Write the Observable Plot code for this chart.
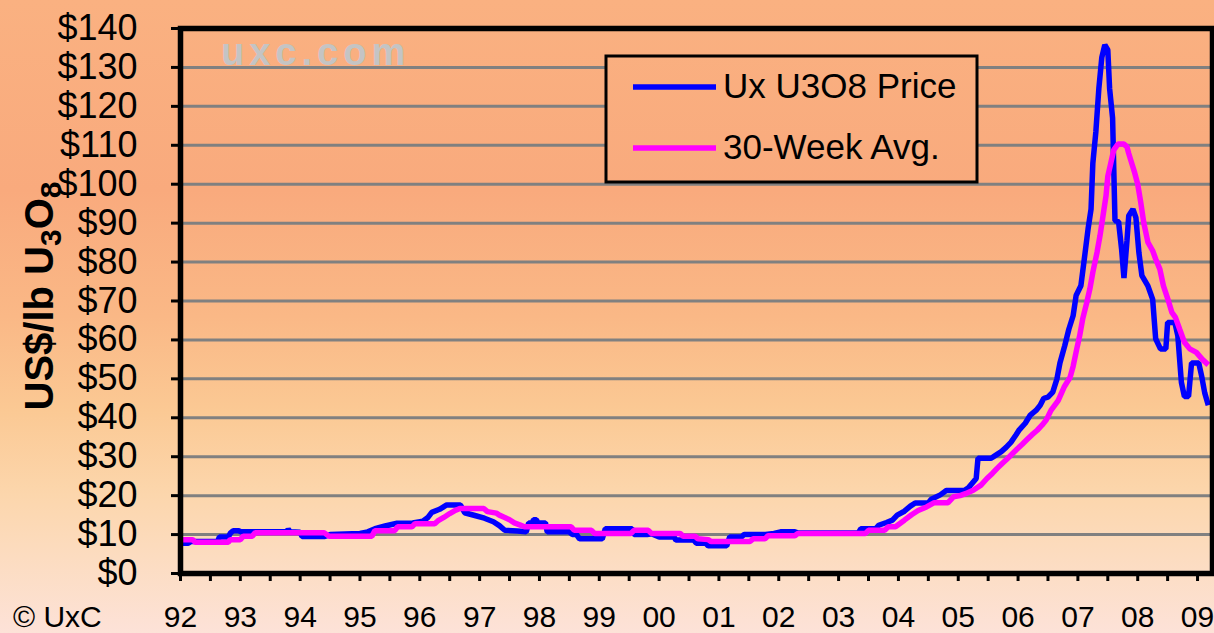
<!DOCTYPE html>
<html><head><meta charset="utf-8">
<script src="https://cdn.jsdelivr.net/npm/d3@7"></script>
<script src="https://cdn.jsdelivr.net/npm/@observablehq/plot@0.6"></script>
<style>html,body{margin:0;padding:0;overflow:hidden;background:#FDE2D8}#chart svg{display:block}</style>
</head><body><div id="chart"></div>
<script>
// Ux U3O8 spot price (decimal year, US$/lb)
const priceYears = [1992.00,1992.13,1992.17,1992.62,1992.65,1992.80,1992.83,1992.88,1992.98,1993.00,1993.20,1993.78,1993.80,1993.83,1994.00,1994.03,1994.40,1994.50,1995.00,1995.13,1995.25,1995.42,1995.62,1995.88,1996.05,1996.13,1996.20,1996.33,1996.45,1996.68,1996.75,1996.92,1997.08,1997.23,1997.33,1997.42,1997.63,1997.78,1997.82,1997.88,1997.90,1997.95,1997.97,1998.10,1998.13,1998.50,1998.55,1998.62,1998.67,1999.05,1999.10,1999.55,1999.58,1999.80,1999.87,2000.00,2000.25,2000.28,2000.58,2000.62,2000.78,2000.82,2001.13,2001.18,2001.38,2001.42,2001.78,2001.92,2002.03,2002.27,2002.33,2003.33,2003.37,2003.62,2003.67,2003.80,2003.90,2003.98,2004.10,2004.20,2004.28,2004.50,2004.55,2004.70,2004.80,2005.10,2005.17,2005.23,2005.30,2005.33,2005.55,2005.63,2005.72,2005.80,2005.88,2005.97,2006.02,2006.12,2006.20,2006.30,2006.37,2006.43,2006.50,2006.58,2006.65,2006.70,2006.78,2006.85,2006.92,2006.97,2007.05,2007.10,2007.17,2007.22,2007.25,2007.30,2007.35,2007.40,2007.45,2007.50,2007.53,2007.58,2007.62,2007.68,2007.73,2007.77,2007.82,2007.85,2007.92,2007.97,2008.02,2008.07,2008.17,2008.25,2008.30,2008.38,2008.47,2008.50,2008.62,2008.67,2008.73,2008.78,2008.85,2008.90,2009.02,2009.07,2009.12,2009.18];
const priceValues = [7.8,7.8,8.2,8.2,9.4,9.4,10.3,11.0,11.0,10.7,10.7,10.7,11.4,10.7,10.6,9.5,9.5,10.0,10.3,10.7,11.5,12.2,12.9,13.0,13.4,14.3,15.7,16.5,17.6,17.6,15.6,14.9,14.2,13.3,12.3,11.1,10.9,10.7,13.0,13.0,13.8,13.8,13.0,13.0,10.7,10.7,10.0,10.0,8.9,8.9,11.5,11.5,10.0,10.0,10.2,9.4,9.4,8.6,8.6,7.8,7.8,7.1,7.1,9.4,9.4,10.0,10.0,10.3,10.7,10.7,10.4,10.4,11.5,11.5,12.4,13.1,13.7,15.0,16.0,17.3,18.1,18.1,19.1,20.2,21.3,21.3,22.0,23.1,24.4,29.6,29.6,30.4,31.3,32.4,33.7,35.7,36.9,38.6,40.6,41.9,43.2,45.0,45.3,46.6,50.0,54.1,58.5,62.8,66.2,71.4,73.9,79.9,88.5,93.6,105.4,113.4,124.5,132.6,135.8,134.5,124.6,117.0,90.6,90.4,83.4,75.9,85.4,91.9,93.6,91.4,82.4,76.5,73.9,70.4,60.3,57.7,57.7,64.5,64.5,61.1,49.1,45.5,45.5,54.1,54.1,50.6,46.4,43.2];

// 30-week moving average (decimal year, US$/lb)
const avgYears = [1992.00,1992.20,1992.25,1992.80,1992.83,1993.00,1993.05,1993.20,1993.25,1994.40,1994.48,1995.20,1995.25,1995.58,1995.63,1995.87,1995.92,1996.25,1996.30,1996.40,1996.50,1996.58,1996.67,1997.07,1997.13,1997.28,1997.33,1997.42,1997.50,1997.58,1997.67,1997.75,1998.53,1998.58,1998.87,1998.92,1999.53,1999.58,1999.82,1999.87,2000.35,2000.40,2000.60,2000.65,2000.82,2000.87,2001.52,2001.57,2001.77,2001.82,2002.27,2002.32,2003.45,2003.50,2003.77,2003.83,2003.95,2004.02,2004.10,2004.22,2004.33,2004.47,2004.60,2004.83,2004.92,2005.03,2005.12,2005.25,2005.38,2005.48,2005.57,2005.65,2005.73,2005.82,2005.90,2005.98,2006.07,2006.15,2006.23,2006.32,2006.40,2006.47,2006.55,2006.67,2006.77,2006.87,2006.92,2006.98,2007.03,2007.08,2007.15,2007.20,2007.25,2007.32,2007.37,2007.42,2007.47,2007.50,2007.55,2007.60,2007.67,2007.77,2007.82,2007.85,2007.90,2007.95,2008.00,2008.05,2008.10,2008.17,2008.25,2008.30,2008.37,2008.43,2008.52,2008.57,2008.63,2008.70,2008.78,2008.87,2008.98,2009.08,2009.18];
const avgValues = [8.7,8.7,8.0,8.0,8.7,8.7,9.6,9.6,10.5,10.5,9.6,9.6,11.0,11.0,12.0,12.0,12.8,12.8,13.5,14.4,15.4,16.1,16.7,16.7,15.9,15.5,15.0,14.4,13.8,13.0,12.5,12.0,12.0,11.1,11.1,10.3,10.3,11.1,11.1,10.3,10.3,9.6,9.6,8.9,8.7,8.2,8.2,8.9,8.9,9.7,9.7,10.3,10.3,11.1,11.1,12.0,12.0,12.8,13.7,15.1,16.2,17.1,18.2,18.2,19.7,20.0,20.5,21.4,22.7,24.4,25.7,27.0,28.2,29.5,30.7,31.9,33.2,34.4,35.6,36.8,38.1,39.4,41.9,44.4,47.9,50.4,53.2,57.6,61.1,65.4,69.7,73.1,77.4,82.5,86.8,91.9,97.0,102.0,105.4,108.8,110.3,110.3,109.6,107.9,105.4,102.9,100.0,95.4,90.2,85.1,82.9,80.8,78.2,73.9,69.7,67.1,65.8,62.8,59.4,57.7,56.8,55.0,53.6];

const yTicks = d3.range(0, 141, 10);
const gridValues = d3.range(10, 131, 10);
const yearTicks = d3.range(1992, 2010);
const halfYearTicks = d3.range(1992, 2009.01, 0.5);
const legendLabels = ["Ux U3O8 Price", "30-Week Avg."];
const seriesColors = ["#0000FF", "#FF00FF"];
const bgStops = [[0, "#FAB181"], [0.3, "#F9AA7D"], [0.5, "#FAB886"], [0.65, "#FBC994"], [0.78, "#FCD6AC"], [0.88, "#FCDCC0"], [1, "#FDE2D8"]];

const priceData = priceYears.map((t, i) => ({t, v: priceValues[i]}));
const avgData = avgYears.map((t, i) => ({t, v: avgValues[i]}));

const FONT = "'Liberation Sans', Arial, Helvetica, sans-serif";

function background(index, scales, values, dims) {
  const g = d3.create("svg:g");
  const grad = g.append("defs").append("linearGradient")
    .attr("id", "bggrad").attr("gradientUnits", "userSpaceOnUse")
    .attr("x1", 0).attr("y1", 0).attr("x2", 0).attr("y2", dims.height);
  bgStops.forEach(([o, c]) => grad.append("stop").attr("offset", o).attr("stop-color", c));
  g.append("rect").attr("width", dims.width).attr("height", dims.height).attr("fill", "url(#bggrad)");
  // watermark
  g.append("text").attr("x", 221).attr("y", 65).attr("fill", "#C4C4C4")
    .attr("text-anchor", "start")
    .attr("font-weight", "bold").attr("font-size", 38).attr("letter-spacing", 5)
    .attr("font-family", FONT).text("uxc.com");
  return g.node();
}

function overlay(index, scales, values, dims) {
  const g = d3.create("svg:g").attr("font-family", FONT).attr("text-anchor", "start");
  // legend
  g.append("rect").attr("x", 606).attr("y", 56).attr("width", 371).attr("height", 126)
    .attr("fill", "url(#bggrad)").attr("stroke", "black").attr("stroke-width", 3);
  const ly = [87, 148];
  legendLabels.forEach((lab, i) => {
    g.append("line").attr("x1", 633).attr("x2", 716).attr("y1", ly[i]).attr("y2", ly[i])
      .attr("stroke", seriesColors[i]).attr("stroke-width", 5.5);
    g.append("text").attr("x", 723).attr("y", ly[i] + 11).attr("text-anchor", "start")
      .attr("font-size", 35).attr("fill", "black").text(lab);
  });
  // y-axis title
  const t = g.append("text").attr("transform", "translate(53,296) rotate(-90)")
    .attr("text-anchor", "middle").attr("font-weight", "bold").attr("font-size", 40).attr("fill", "black");
  t.append("tspan").text("US$/lb U");
  t.append("tspan").attr("font-size", 30).attr("dy", 8).text("3");
  t.append("tspan").attr("dy", -8).text("O");
  t.append("tspan").attr("font-size", 30).attr("dy", 8).text("8");
  // copyright
  g.append("text").attr("x", 13).attr("y", 627).attr("text-anchor", "start")
    .attr("font-size", 30).attr("fill", "black").text("© UxC");
  return g.node();
}

const chart = Plot.plot({
  width: 1214,
  height: 633,
  marginLeft: 180,
  marginRight: 2,
  marginTop: 28,
  marginBottom: 60,
  style: {fontFamily: FONT, background: "transparent", color: "black", overflow: "visible"},
  x: {domain: [1992, 2009.25], label: null},
  y: {domain: [0, 140], label: null},
  marks: [
    background,
    Plot.ruleY(gridValues, {stroke: "#808080", strokeWidth: 3}),
    Plot.line(priceData, {x: "t", y: "v", stroke: seriesColors[0], strokeWidth: 5.5, strokeLinejoin: "miter", strokeLinecap: "butt"}),
    Plot.line(avgData, {x: "t", y: "v", stroke: seriesColors[1], strokeWidth: 5.5, strokeLinejoin: "miter", strokeLinecap: "butt"}),
    Plot.axisY({ticks: yTicks, tickSize: 9, tickPadding: 34, fontSize: 36, strokeWidth: 3, tickFormat: d => "$" + d}),
    Plot.axisX({ticks: halfYearTicks, tickSize: 8, strokeWidth: 3, tickFormat: () => ""}),
    Plot.axisX({ticks: yearTicks, tickSize: 0, tickPadding: 32, fontSize: 30, tickFormat: d => String(d % 100).padStart(2, "0")}),
    Plot.frame({stroke: "black", strokeWidth: 5.5}),
    overlay
  ]
});
document.getElementById("chart").appendChild(chart);
</script>
</body></html>
